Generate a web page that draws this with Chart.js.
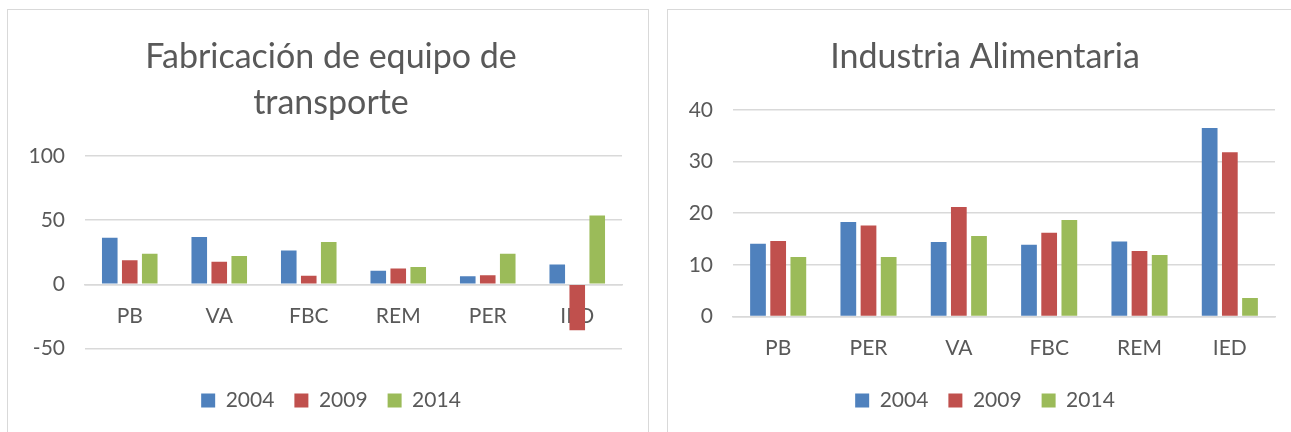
<!DOCTYPE html>
<html>
<head>
<meta charset="utf-8">
<script src="https://cdn.jsdelivr.net/npm/chart.js@4.4.1/dist/chart.umd.min.js"></script>
<style>
  html, body { margin: 0; padding: 0; background: #fff; overflow: hidden; width: 1291px; height: 432px; }
  .box { position: absolute; border: 1px solid #d9d9d9; box-sizing: border-box; }
  #b1 { left: 7px; top: 9px; width: 642px; height: 440px; }
  #b2 { left: 667px; top: 9px; width: 640px; height: 440px; }
  canvas { position: absolute; }
</style>
</head>
<body>
<div class="box" id="b1"></div>
<div class="box" id="b2"></div>
<canvas id="left" width="640" height="411" style="left:8px;top:10px"></canvas>
<canvas id="right" width="635" height="411" style="left:668px;top:10px"></canvas>
<script>
// years (series)
var years = ['2004', '2009', '2014'];
var colors = ['#4F81BD', '#C0504D', '#9BBB59'];

// Fabricación de equipo de transporte
var transCats = ['PB', 'VA', 'FBC', 'REM', 'PER', 'IED'];
var trans2004 = [36.3, 36.8, 26.2, 10.6, 6.2, 15.3];
var trans2009 = [18.7, 17.6, 6.7, 12.2, 7.0, -35.8];
var trans2014 = [23.8, 22.0, 32.9, 13.5, 23.8, 53.6];
var transTicks = [-50, 0, 50, 100];

// Industria Alimentaria
var alimCats = ['PB', 'PER', 'VA', 'FBC', 'REM', 'IED'];
var alim2004 = [14.1, 18.3, 14.4, 13.9, 14.5, 36.5];
var alim2009 = [14.6, 17.6, 21.2, 16.2, 12.7, 31.8];
var alim2014 = [11.5, 11.5, 15.6, 18.7, 11.9, 3.6];
var alimTicks = [0, 10, 20, 30, 40];

var FONT = 'Lato, "Open Sans", sans-serif';
var TEXT = '#595959';
var GRID = '#d9d9d9';

// let the y tick labels run into the left padding instead of being clipped
var unclipY = {
  id: 'unclipY',
  afterLayout: function (chart) { chart.scales.y.left = 0; }
};

function makeSets(a, b, c) {
  return [a, b, c].map(function (d, i) {
    return {
      label: years[i],
      data: d,
      backgroundColor: colors[i],
      categoryPercentage: 0.67,
      barPercentage: 0.78
    };
  });
}

function makeChart(id, title, cats, sets, ticks, opt) {
  var lo = ticks[0], hi = ticks[ticks.length - 1];
  var x = {
    position: opt.xPos,
    grid: { display: false, drawTicks: false },
    border: { color: GRID, width: 1.5 },
    ticks: { color: TEXT, font: { family: FONT, size: 21 }, padding: 19 }
  };
  if (opt.xHeight) x.afterFit = function (s) { s.height = opt.xHeight; };
  return new Chart(document.getElementById(id), {
    type: 'bar',
    data: { labels: cats, datasets: sets },
    plugins: [unclipY],
    options: {
      responsive: false,
      animation: false,
      layout: { padding: { left: opt.padL, right: opt.padR, top: 0, bottom: 0 } },
      plugins: {
        tooltip: { enabled: false },
        title: {
          display: true,
          text: title,
          color: TEXT,
          font: { family: FONT, size: 34, weight: 'normal', lineHeight: 1.35 },
          padding: { top: 24, bottom: 30 }
        },
        legend: {
          position: 'bottom',
          title: { display: true, text: ' ', font: { size: 1, lineHeight: 1 }, padding: { top: 0, bottom: opt.legendGap } },
          labels: {
            color: TEXT,
            font: { family: FONT, size: 21 },
            boxWidth: 14,
            boxHeight: 14,
            padding: 20
          }
        }
      },
      scales: {
        x: x,
        y: {
          min: lo,
          max: hi,
          afterFit: function (s) { s.width = opt.yWidth; },
          afterBuildTicks: function (s) { s.ticks = ticks.map(function (v) { return { value: v }; }); },
          grid: { color: GRID, lineWidth: 1.5, drawTicks: false },
          border: { display: false },
          ticks: { color: TEXT, font: { family: FONT, size: 21 }, padding: 20 }
        }
      }
    }
  });
}

makeChart('left', ['Fabricación de equipo de', 'transporte'], transCats,
  makeSets(trans2004, trans2009, trans2014), transTicks,
  { padL: 32, padR: 26, yWidth: 45, legendGap: 20.5, xPos: { y: 0 } });

makeChart('right', 'Industria Alimentaria', alimCats,
  makeSets(alim2004, alim2009, alim2014), alimTicks,
  { padL: 27, padR: 28, yWidth: 38, legendGap: 8.5, xHeight: 44, xPos: 'bottom' });
</script>
</body>
</html>
